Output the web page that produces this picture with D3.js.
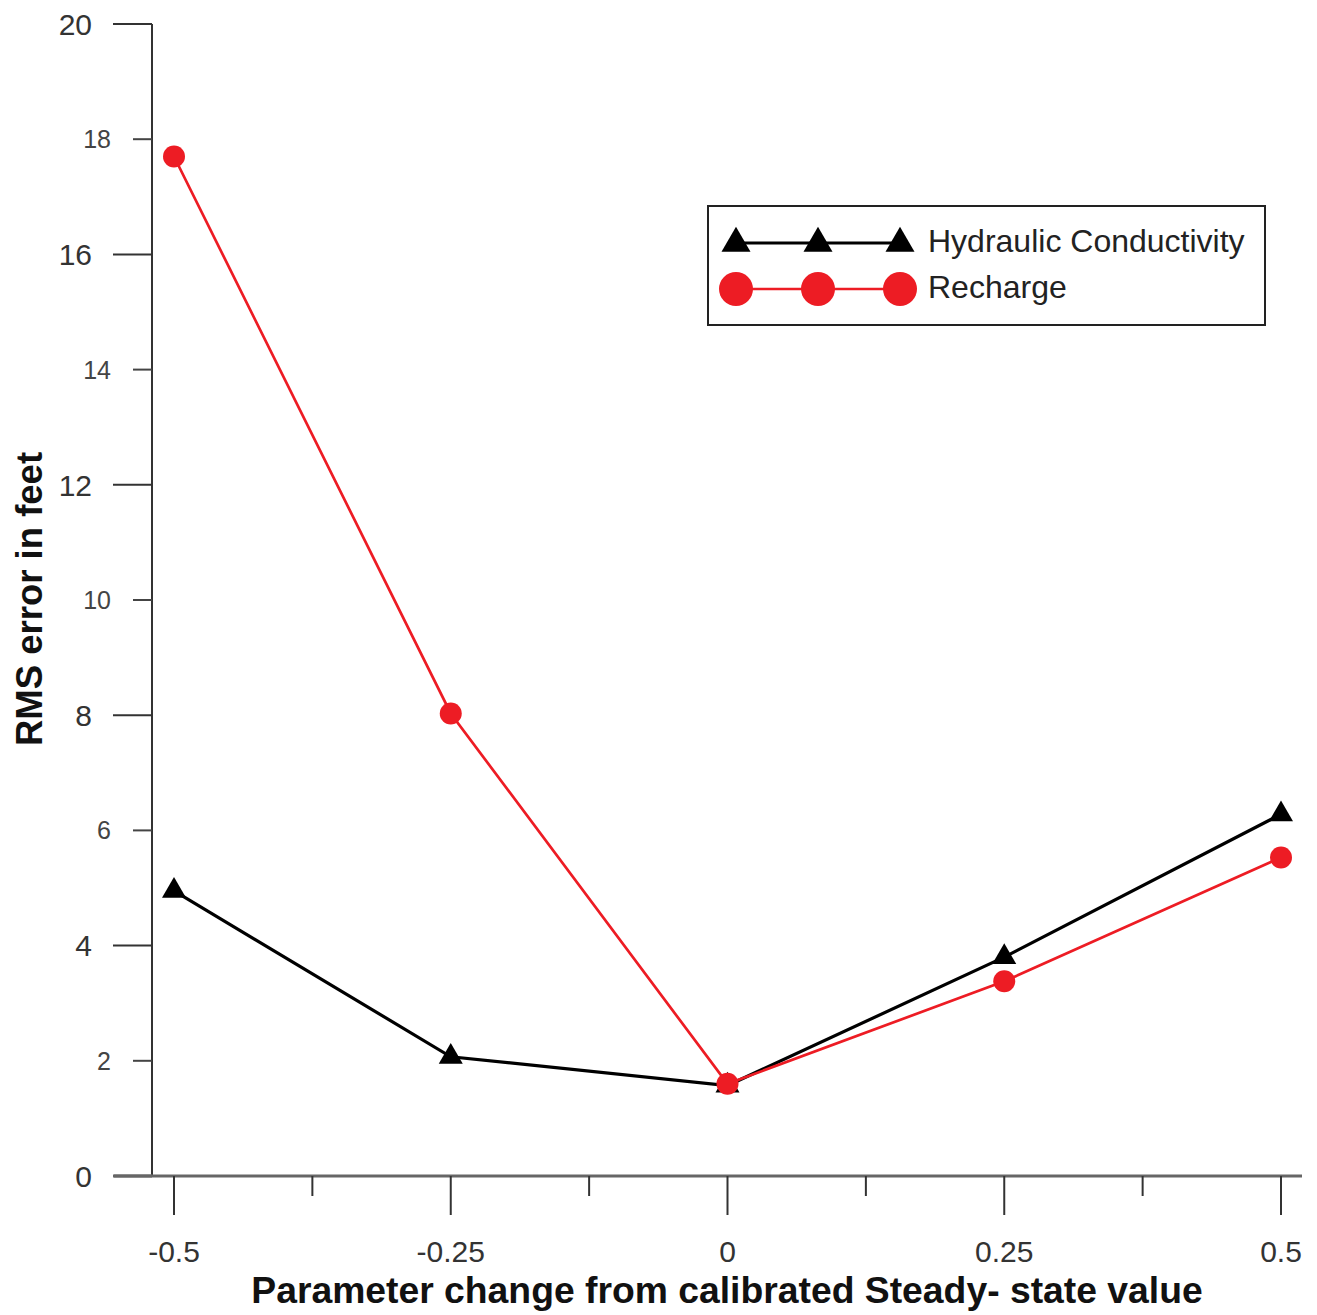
<!DOCTYPE html>
<html><head><meta charset="utf-8">
<script src="https://cdn.jsdelivr.net/npm/d3@7"></script>
<style>body{margin:0;background:#fff;}svg{display:block;font-family:"Liberation Sans",Arial,sans-serif;}</style>
</head><body>
<script>
const xValues = [-0.5, -0.25, 0, 0.25, 0.5];
const hydraulic = [4.95, 2.07, 1.57, 3.8, 6.28];
const recharge = [17.7, 8.03, 1.6, 3.38, 5.53];
const seriesNames = ["Hydraulic Conductivity", "Recharge"];
const xMajorTicks = [-0.5, -0.25, 0, 0.25, 0.5];
const xMinorTicks = [-0.375, -0.125, 0.125, 0.375];
const yMajorTicks = [0, 4, 8, 12, 16, 20];
const yMinorTicks = [2, 6, 10, 14, 18];
const xTitle = "Parameter change from calibrated Steady- state value";
const yTitle = "RMS error in feet";

const W = 1317, H = 1315;
const svg = d3.select("body").append("svg").attr("width", W).attr("height", H);

const x = d3.scaleLinear().domain([-0.5, 0.5]).range([174, 1281]);
const y = d3.scaleLinear().domain([0, 20]).range([1176, 24]);
const axisColor = "#333";

// Y axis line
svg.append("line").attr("x1", 152).attr("x2", 152).attr("y1", y(20)).attr("y2", y(0))
  .attr("stroke", axisColor).attr("stroke-width", 2);
// X axis line
svg.append("line").attr("x1", 114).attr("x2", 1302).attr("y1", y(0)).attr("y2", y(0))
  .attr("stroke", "#666").attr("stroke-width", 3);

// Y ticks
const gy = svg.append("g");
gy.selectAll(".ymaj").data(yMajorTicks).join("line")
  .attr("x1", 113).attr("x2", 152).attr("y1", d => y(d)).attr("y2", d => y(d))
  .attr("stroke", d => d === 0 ? "#666" : axisColor).attr("stroke-width", d => d === 0 ? 3 : 2);
gy.selectAll(".ymin").data(yMinorTicks).join("line")
  .attr("x1", 133).attr("x2", 152).attr("y1", d => y(d)).attr("y2", d => y(d))
  .attr("stroke", "#444").attr("stroke-width", 2);
gy.selectAll(".ymajl").data(yMajorTicks).join("text")
  .attr("x", 92).attr("y", d => y(d)).attr("dy", "0.36em").attr("text-anchor", "end")
  .attr("font-size", 30).attr("fill", "#333").text(d => d);
gy.selectAll(".yminl").data(yMinorTicks).join("text")
  .attr("x", 111).attr("y", d => y(d)).attr("dy", "0.36em").attr("text-anchor", "end")
  .attr("font-size", 25).attr("fill", "#444").text(d => d);

// X ticks
const gx = svg.append("g");
gx.selectAll(".xmaj").data(xMajorTicks).join("line")
  .attr("x1", d => x(d)).attr("x2", d => x(d)).attr("y1", y(0)).attr("y2", 1215)
  .attr("stroke", axisColor).attr("stroke-width", 2);
gx.selectAll(".xmin").data(xMinorTicks).join("line")
  .attr("x1", d => x(d)).attr("x2", d => x(d)).attr("y1", y(0)).attr("y2", 1196)
  .attr("stroke", axisColor).attr("stroke-width", 2);
gx.selectAll(".xl").data(xMajorTicks).join("text")
  .attr("x", d => x(d)).attr("y", 1262).attr("text-anchor", "middle")
  .attr("font-size", 30).attr("fill", "#333").text(d => d);

// Titles
svg.append("text").attr("x", 727).attr("y", 1303).attr("text-anchor", "middle")
  .attr("font-size", 37.3).attr("font-weight", "bold").attr("fill", "#111").text(xTitle);
svg.append("text").attr("transform", "translate(42,599) rotate(-90)").attr("text-anchor", "middle")
  .attr("font-size", 36.5).attr("font-weight", "bold").attr("fill", "#111").text(yTitle);

const line = d3.line().x((d, i) => x(xValues[i])).y(d => y(d));
const tri = d3.symbol().type(d3.symbolTriangle);

// Hydraulic series
svg.append("path").datum(hydraulic).attr("d", line).attr("fill", "none")
  .attr("stroke", "#000").attr("stroke-width", 3.2);
svg.selectAll(".tri").data(hydraulic).join("path")
  .attr("transform", (d, i) => `translate(${x(xValues[i])},${y(d)})`)
  .attr("d", tri.size(250)()).attr("fill", "#000");

// Recharge series
const red = "#ed1c24";
svg.append("path").datum(recharge).attr("d", line).attr("fill", "none")
  .attr("stroke", red).attr("stroke-width", 2.7);
svg.selectAll(".circ").data(recharge).join("circle")
  .attr("cx", (d, i) => x(xValues[i])).attr("cy", d => y(d)).attr("r", 11).attr("fill", red);

// Legend
const lg = svg.append("g");
lg.append("rect").attr("x", 708).attr("y", 206).attr("width", 557).attr("height", 119)
  .attr("fill", "#fff").attr("stroke", "#222").attr("stroke-width", 2);
const lx = [736, 818, 900];
lg.append("line").attr("x1", lx[0]).attr("x2", lx[2]).attr("y1", 243).attr("y2", 243)
  .attr("stroke", "#000").attr("stroke-width", 3.2);
lx.forEach(px => {
  lg.append("path").attr("transform", `translate(${px},${243.5})`).attr("d", d3.symbol().type(d3.symbolTriangle).size(364)()).attr("fill", "#000");
});
lg.append("line").attr("x1", lx[0]).attr("x2", lx[2]).attr("y1", 289).attr("y2", 289)
  .attr("stroke", red).attr("stroke-width", 2.7);
lx.forEach(px => {
  lg.append("circle").attr("cx", px).attr("cy", 289).attr("r", 17).attr("fill", red);
});
lg.append("text").attr("x", 928).attr("y", 252).attr("font-size", 32).attr("fill", "#222").text(seriesNames[0]);
lg.append("text").attr("x", 928).attr("y", 298).attr("font-size", 32).attr("fill", "#222").text(seriesNames[1]);
</script>
</body></html>
